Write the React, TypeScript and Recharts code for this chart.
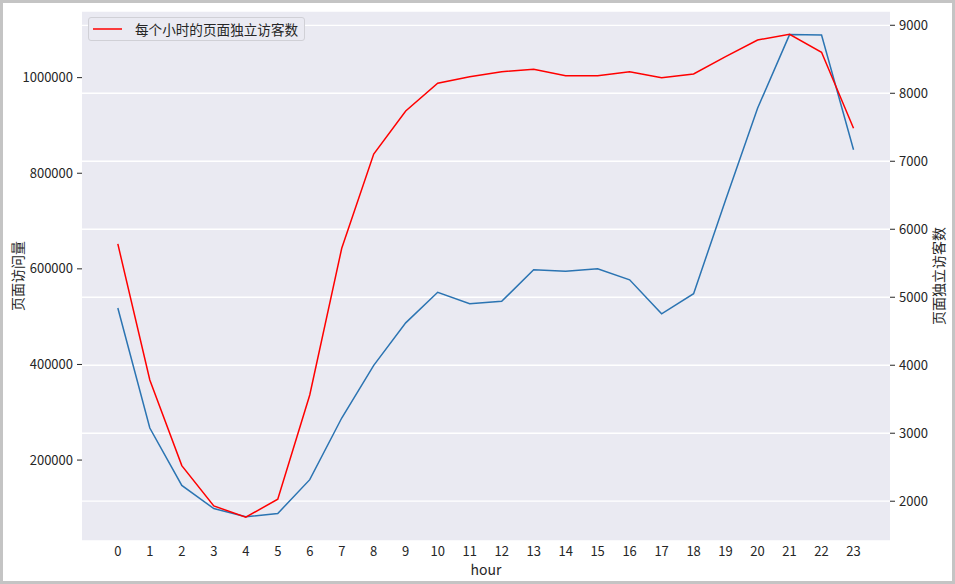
import React from 'react';
import {
    LineChart, Line, XAxis, YAxis, CartesianGrid,
} from 'recharts';

const hours = [0, 1, 2, 3, 4, 5, 6, 7, 8, 9, 10, 11, 12, 13, 14, 15, 16, 17, 18, 19, 20, 21, 22, 23];
// 页面访问量 (left axis, blue)
const pageViews = [
    518000, 267000, 147000, 98600, 81300, 88200, 159000, 288000, 398000, 487000, 551000, 527000,
    532000, 598000, 595000, 600000, 577000, 506000, 548000, 744000, 936000, 1090000, 1089000, 849000,
];
// 页面独立访客数 (right axis, red)
const uniqueVisitors = [
    5784, 3784, 2524, 1931, 1765, 2029, 3563, 5721, 7107, 7740, 8147, 8244,
    8318, 8353, 8259, 8259, 8318, 8229, 8284, 8538, 8784, 8868, 8603, 7485,
];
const leftTicks = [200000, 400000, 600000, 800000, 1000000];
const rightTicks = [2000, 3000, 4000, 5000, 6000, 7000, 8000, 9000];

const data = hours.map((h, i) => ({ hour: h, pv: pageViews[i], uv: uniqueVisitors[i] }));

const FONT = '"Noto Sans CJK SC", "Noto Sans", sans-serif';
const INK = '#262626';

const AxisTitle = ({ viewBox, text, cx }: any) => {
    const cy = viewBox.y + viewBox.height / 2;
    return (
        <text x={cx} y={cy} transform={`rotate(-90, ${cx}, ${cy})`} textAnchor="middle"
            dominantBaseline="central" fill={INK} fontSize={14} fontFamily={FONT}>
            {text}
        </text>
    );
};

// only the red series is in the legend, like the original
const LegendBox = () => (
    <div style={{
        position: 'absolute', left: 88, top: 17,
        width: 217, height: 24, boxSizing: 'border-box', background: '#EAEAF2',
        border: '1px solid #d0d0d6', borderRadius: 3, display: 'flex', alignItems: 'center',
        fontFamily: FONT, fontSize: 13.6, color: INK,
    }}>
        <svg width={46} height={22} style={{ flex: 'none' }}>
            <line x1={4} y1={11} x2={33} y2={11} stroke="#ff0000" strokeWidth={1.5} />
        </svg>
        <span style={{ whiteSpace: 'nowrap' }}>每个小时的页面独立访客数</span>
    </div>
);

export default function App() {
    return (
        <div style={{ position: 'absolute', left: 0, top: 0, width: 955, height: 584, background: '#fff' }}>
            <div style={{
                position: 'absolute', inset: 0, border: '3px solid #c4c4c4', boxSizing: 'border-box',
            }} />
            <div style={{ position: 'absolute', left: 0, top: 0 }}>
                <LineChart width={955} height={584} data={data}
                    margin={{ top: 11, right: 0, bottom: 0, left: 0 }}>
                    <CartesianGrid yAxisId="right" vertical={false} horizontal stroke="#ffffff"
                        strokeWidth={1.3} fill="#EAEAF2" />
                    <XAxis dataKey="hour" type="number" domain={[-1.12, 24.14]} ticks={hours}
                        interval={0} height={43} axisLine={false} tickLine={false} tickSize={0}
                        tickMargin={6} tick={{ fill: INK, fontSize: 13, fontFamily: FONT }}
                        label={{ value: 'hour', position: 'insideBottom', offset: 9, fill: INK, fontSize: 14, fontFamily: FONT }} />
                    <YAxis yAxisId="left" orientation="left" width={82} domain={[30700, 1139400]}
                        ticks={leftTicks} axisLine={false} tickSize={5} tickMargin={4}
                        tickLine={{ stroke: INK }} tick={{ fill: INK, fontSize: 13, fontFamily: FONT }}
                        allowDataOverflow
                        label={<AxisTitle text="页面访问量" cx={17} />} />
                    <YAxis yAxisId="right" orientation="right" width={65} domain={[1415, 9210]}
                        ticks={rightTicks} axisLine={false} tickSize={5} tickMargin={4}
                        tickLine={{ stroke: INK }} tick={{ fill: INK, fontSize: 13, fontFamily: FONT }}
                        allowDataOverflow
                        label={<AxisTitle text="页面独立访客数" cx={938} />} />
                    <Line yAxisId="left" type="linear" dataKey="pv" stroke="#2b74b2" strokeWidth={1.5}
                        dot={false} isAnimationActive={false} />
                    <Line yAxisId="right" type="linear" dataKey="uv" stroke="#ff0000" strokeWidth={1.5}
                        dot={false} isAnimationActive={false} />
                </LineChart>
            </div>
            <LegendBox />
        </div>
    );
}
